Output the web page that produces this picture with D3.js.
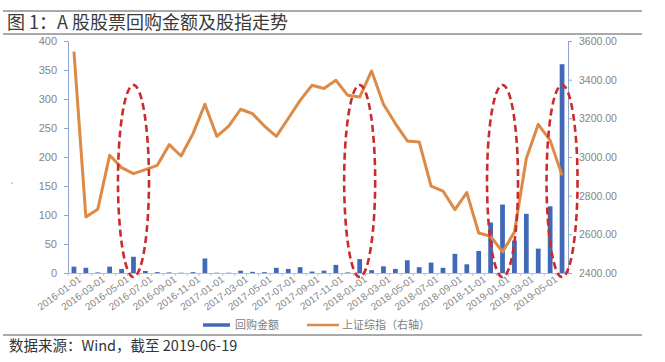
<!DOCTYPE html>
<html><head><meta charset="utf-8">
<script src="https://cdn.jsdelivr.net/npm/d3@7"></script>
<style>
body{margin:0;background:#fff;}
svg{display:block;}
text{font-family:"Liberation Sans","Noto Sans CJK SC",sans-serif;}
.cjk{font-family:"Noto Sans CJK SC","Liberation Sans",sans-serif;}
</style></head><body>
<svg id="c" width="665" height="362"></svg>
<script>
const months = [];
for (let y = 2016; y <= 2019; y++) for (let m = 1; m <= 12; m++) {
  if (y === 2019 && m > 6) break;
  months.push(`${y}-${String(m).padStart(2,"0")}-01`);
}
const buyback = [11,9,1,11,7,28,3.5,1.5,1,0.5,1.5,25,0.5,0.5,4,2,1.5,9,7,10,2.5,4,14,1,24,5,11.5,7,22,10,18,9,33,15,38,87,118,56,102,42,115,360];
const sse = [3545,2690,2730,3009,2945,2914,2935,2957,3064,3005,3121,3273,3107,3160,3247,3224,3160,3107,3199,3293,3371,3354,3397,3319,3310,3445,3273,3173,3083,3078,2849,2824,2728,2816,2607,2590,2509,2612,2992,3169,3086,2905];
const leftTicks = [0,50,100,150,200,250,300,350,400];
const rightTicks = [2400,2600,2800,3000,3200,3400,3600];
const highlight = ["2016-06-01","2018-01-01","2019-01-01","2019-06-01"];
const title = "图 1：A 股股票回购金额及股指走势";
const source = "数据来源：Wind，截至 2019-06-19";
const legendNames = ["回购金额","上证综指（右轴）"];

const svg = d3.select("#c");
const L = 68, R = 568, T = 41, B = 273;
const x = d3.scaleBand().domain(months).range([L, R]).paddingInner(0.6).paddingOuter(0.3);
const xc = d => x(d) + x.bandwidth()/2;
const yL = d3.scaleLinear().domain([0,400]).range([B,T]);
const yR = d3.scaleLinear().domain([2400,3600]).range([B,T]);

// header lines
svg.append("line").attr("x1",3).attr("x2",642).attr("y1",11).attr("y2",11).attr("stroke","#555").attr("stroke-width",1);
svg.append("line").attr("x1",3).attr("x2",642).attr("y1",34).attr("y2",34).attr("stroke","#555").attr("stroke-width",1);
svg.append("line").attr("x1",3).attr("x2",642).attr("y1",335).attr("y2",335).attr("stroke","#555").attr("stroke-width",1);
svg.append("text").attr("class","cjk").attr("x",7).attr("y",29).attr("font-size",18).attr("fill","#3a3a3a").text(title);
svg.append("text").attr("class","cjk").attr("x",9).attr("y",351).attr("font-size",14.5).attr("fill","#333").text(source);
svg.append("text").attr("x",11).attr("y",188).attr("font-size",9).attr("fill","#999").text("'");

// bars
svg.append("g").selectAll("rect").data(months).join("rect")
  .attr("x", d => x(d)).attr("width", x.bandwidth())
  .attr("y", (d,i) => yL(buyback[i])).attr("height", (d,i) => B - yL(buyback[i]))
  .attr("fill","#4169b8");

// axes
const gl = svg.append("g").attr("transform",`translate(${L},0)`).call(d3.axisLeft(yL).tickValues(leftTicks).tickSize(4).tickPadding(7));
const gr = svg.append("g").attr("transform",`translate(${R},0)`).call(d3.axisRight(yR).tickValues(rightTicks).tickSize(4).tickPadding(7).tickFormat(d3.format(".2f")));
const gx = svg.append("g").attr("transform",`translate(0,${B})`).call(d3.axisBottom(x).tickValues(months.filter((d,i)=>i%2===0)).tickSize(0).tickPadding(6));
[gl,gr,gx].forEach(g => {
  g.select(".domain").attr("stroke","#8fa3cf").attr("stroke-width",1);
  g.selectAll(".tick line").attr("stroke","#8fa3cf");
  g.selectAll(".tick text").attr("fill","#858585").attr("font-size",10.5);
});
gl.selectAll(".tick text").attr("font-size",11);
gx.select(".domain").attr("stroke","#b5bfd6");
gx.selectAll(".tick text").attr("font-size",10)
  .attr("text-anchor","end").attr("dx","0.2em").attr("dy","0.5em")
  .attr("transform","rotate(-36)");
// minor ticks on x axis at band boundaries
svg.append("g").selectAll("line").data(months).join("line")
  .attr("x1", d => x(d) - x.step()*x.paddingInner()/2).attr("x2", d => x(d) - x.step()*x.paddingInner()/2)
  .attr("y1",B).attr("y2",B+3).attr("stroke","#b5bfd6");

// line
svg.append("path").datum(sse)
  .attr("d", d3.line().x((d,i)=>xc(months[i])).y(d=>yR(d)))
  .attr("fill","none").attr("stroke","#dc8a46").attr("stroke-width",3).attr("stroke-linejoin","round");

// ellipses
svg.append("g").selectAll("ellipse").data(highlight).join("ellipse")
  .attr("cx", d => xc(d)).attr("cy", 181).attr("rx", 15.5).attr("ry", 96)
  .attr("fill","none").attr("stroke","#cc2b2b").attr("stroke-width",2.6).attr("stroke-dasharray","7,4");

// legend
const lg = svg.append("g");
lg.append("line").attr("x1",203).attr("x2",230).attr("y1",325).attr("y2",325).attr("stroke","#4169b8").attr("stroke-width",3.5);
lg.append("text").attr("class","cjk").attr("x",235).attr("y",329).attr("font-size",11).attr("fill","#808080").text(legendNames[0]);
lg.append("line").attr("x1",307).attr("x2",339).attr("y1",325).attr("y2",325).attr("stroke","#dc8a46").attr("stroke-width",2.5);
lg.append("text").attr("class","cjk").attr("x",342).attr("y",329).attr("font-size",11).attr("fill","#808080").text(legendNames[1]);
</script></body></html>
